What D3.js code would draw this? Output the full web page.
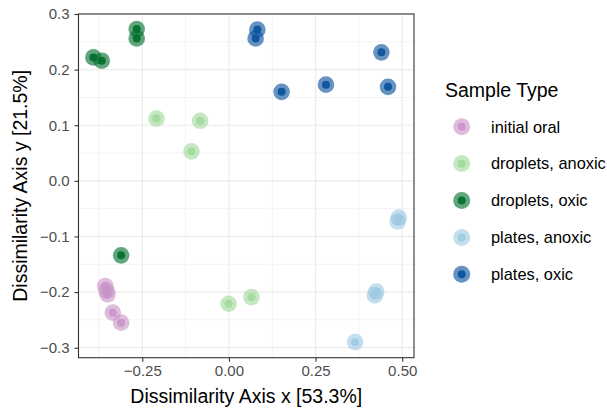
<!DOCTYPE html>
<html>
<head>
<meta charset="utf-8">
<script src="https://cdn.jsdelivr.net/npm/d3@7"></script>
<style>
body { margin: 0; background: #fff; }
text { font-family: "Liberation Sans", Arial, sans-serif; }
</style>
</head>
<body>
<svg id="chart" width="607" height="410"></svg>
<script>
// sample groups and their colours
var groups = ['initial oral', 'droplets, anoxic', 'droplets, oxic', 'plates, anoxic', 'plates, oxic'];
var colours = ['#c994c7', '#a1d99b', '#006d2c', '#9ecae1', '#08519c'];

// ordination coordinates
var initialOral = [[-0.357, -0.189], [-0.353, -0.198], [-0.350, -0.204], [-0.335, -0.237], [-0.311, -0.255]];
var dropletsAnoxic = [[-0.209, 0.112], [-0.083, 0.108], [-0.108, 0.053], [-0.001, -0.221], [0.065, -0.209]];
var dropletsOxic = [[-0.391, 0.222], [-0.367, 0.216], [-0.266, 0.273], [-0.266, 0.256], [-0.311, -0.134]];
var platesAnoxic = [[0.490, -0.066], [0.487, -0.073], [0.425, -0.199], [0.421, -0.206], [0.364, -0.290]];
var platesOxic = [[0.082, 0.272], [0.077, 0.256], [0.152, 0.160], [0.280, 0.173], [0.440, 0.231], [0.459, 0.169]];

var xTicks = [-0.25, 0, 0.25, 0.5];
var yTicks = [-0.3, -0.2, -0.1, 0, 0.1, 0.2, 0.3];
var xMinor = [-0.375, -0.125, 0.125, 0.375];
var yMinor = [-0.25, -0.15, -0.05, 0.05, 0.15, 0.25];

var series = [initialOral, dropletsAnoxic, dropletsOxic, platesAnoxic, platesOxic];
var points = [];
series.forEach(function(s, i) {
	s.forEach(function(p) { points.push({ x: p[0], y: p[1], group: groups[i] }); });
});

var colour = d3.scaleOrdinal().domain(groups).range(colours);

var panelL = 78.5, panelR = 414, panelT = 14, panelB = 357.7;

var x = d3.scaleLinear().domain([-0.434, 0.534]).range([panelL, panelR]);
var y = d3.scaleLinear().domain([-0.318, 0.300]).range([panelB, panelT]);

var svg = d3.select('#chart');

// grid
var grid = svg.append('g');
grid.selectAll('.xminor').data(xMinor).enter().append('line')
.attr('x1', d => x(d)).attr('x2', d => x(d)).attr('y1', panelT).attr('y2', panelB)
.attr('stroke', '#ebebeb').attr('stroke-width', 0.6);
grid.selectAll('.yminor').data(yMinor).enter().append('line')
.attr('y1', d => y(d)).attr('y2', d => y(d)).attr('x1', panelL).attr('x2', panelR)
.attr('stroke', '#ebebeb').attr('stroke-width', 0.6);
grid.selectAll('.xmajor').data(xTicks).enter().append('line')
.attr('x1', d => x(d)).attr('x2', d => x(d)).attr('y1', panelT).attr('y2', panelB)
.attr('stroke', '#ebebeb').attr('stroke-width', 1.2);
grid.selectAll('.ymajor').data(yTicks).enter().append('line')
.attr('y1', d => y(d)).attr('y2', d => y(d)).attr('x1', panelL).attr('x2', panelR)
.attr('stroke', '#ebebeb').attr('stroke-width', 1.2);

// points: big translucent halo, then solid centre
var marks = svg.append('g');
marks.selectAll('.halo').data(points).enter().append('circle')
.attr('cx', d => x(d.x)).attr('cy', d => y(d.y)).attr('r', 8.3)
.attr('fill', d => colour(d.group)).attr('fill-opacity', 0.62);
marks.selectAll('.dot').data(points).enter().append('circle')
.attr('cx', d => x(d.x)).attr('cy', d => y(d.y)).attr('r', 4)
.attr('fill', d => colour(d.group)).attr('fill-opacity', 0.9);

// panel border
svg.append('rect').attr('x', panelL).attr('y', panelT)
.attr('width', panelR - panelL).attr('height', panelB - panelT)
.attr('fill', 'none').attr('stroke', '#333333').attr('stroke-width', 1.1);

// axes
var xAxis = d3.axisBottom(x).tickValues(xTicks).tickSize(4).tickPadding(4)
.tickFormat(d3.format('.2f'));
var yAxis = d3.axisLeft(y).tickValues(yTicks).tickSize(4).tickPadding(5)
.tickFormat(d3.format('.1f'));

var gx = svg.append('g').attr('transform', 'translate(0,' + panelB + ')').call(xAxis);
var gy = svg.append('g').attr('transform', 'translate(' + panelL + ',0)').call(yAxis);
[gx, gy].forEach(function(g) {
	g.select('.domain').remove();
	g.selectAll('line').attr('stroke', '#333333').attr('stroke-width', 1.1);
	g.selectAll('text').attr('fill', '#4d4d4d').style('font-size', '15px');
});

svg.append('text').attr('x', (panelL + panelR) / 2).attr('y', 403)
.attr('text-anchor', 'middle').style('font-size', '19.5px').text('Dissimilarity Axis x [53.3%]');
svg.append('text').attr('transform', 'translate(27,' + ((panelT + panelB) / 2) + ') rotate(-90)')
.attr('text-anchor', 'middle').style('font-size', '19.5px').text('Dissimilarity Axis y [21.5%]');

// legend
var legend = svg.append('g').attr('transform', 'translate(445,0)');
legend.append('text').attr('x', 0).attr('y', 96.5).style('font-size', '19.5px').text('Sample Type');
var item = legend.selectAll('.item').data(groups).enter().append('g')
.attr('transform', (d, i) => 'translate(0,' + (126.7 + i * 36.9) + ')');
item.append('circle').attr('cx', 16.7).attr('r', 8.5)
.attr('fill', d => colour(d)).attr('fill-opacity', 0.62);
item.append('circle').attr('cx', 16.7).attr('r', 4)
.attr('fill', d => colour(d)).attr('fill-opacity', 0.9);
item.append('text').attr('x', 46).attr('y', 5.8).style('font-size', '16.4px').text(d => d);
</script>
</body>
</html>
